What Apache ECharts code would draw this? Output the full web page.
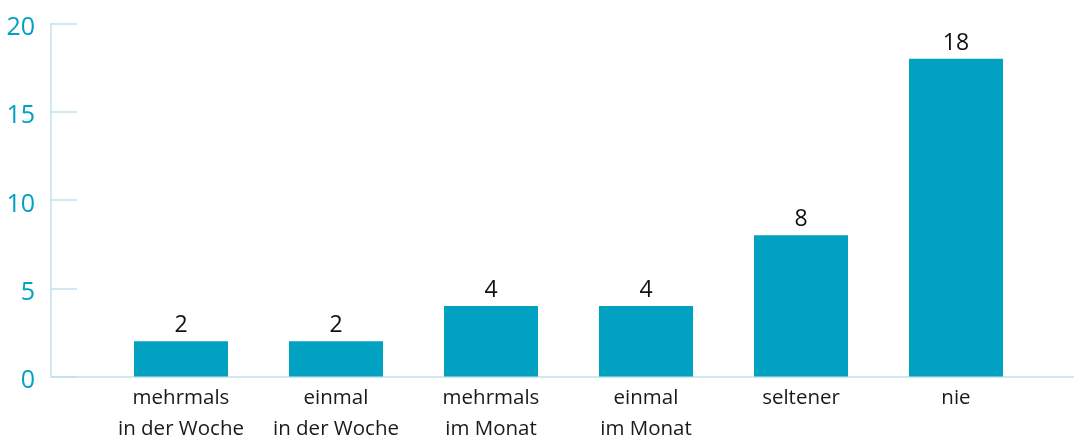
<!DOCTYPE html>
<html><head><meta charset="utf-8">
<script src="https://cdn.jsdelivr.net/npm/echarts@6/dist/echarts.min.js"></script>
<style>html,body{margin:0;padding:0;background:#fff}#c{width:1074px;height:437px}</style>
</head><body><div id="c"></div>
<script>
const categories = ['mehrmals\nin der Woche', 'einmal\nin der Woche', 'mehrmals\nim Monat', 'einmal\nim Monat', 'seltener', 'nie'];
const values = [2, 2, 4, 4, 8, 18];
const yTicks = [0, 5, 10, 15, 20];

const teal = '#00a1c1';
const axisCol = '#bfe4ec';
const font = '"Open Sans", "Noto Sans", sans-serif';

const chart = echarts.init(document.getElementById('c'));
chart.setOption({
  animation: false,
  grid: [
    {left: 51, right: 0, top: 23.5, bottom: 60.5, containLabel: false, outerBoundsMode: 'none'},
    {left: 103.5, right: 40.5, top: 23.5, bottom: 60.5, containLabel: false, outerBoundsMode: 'none'}
  ],
  xAxis: [
    {gridIndex: 0, type: 'value', min: 0, max: 1, show: true,
     axisLine: {show: true, lineStyle: {color: axisCol, width: 1.5}},
     axisTick: {show: false}, axisLabel: {show: false}, splitLine: {show: false}},
    {gridIndex: 1, type: 'category', data: categories,
     axisLine: {show: false}, axisTick: {show: false},
     axisLabel: {color: '#1a1a1a', fontFamily: font, fontSize: 20.5, lineHeight: 31, margin: 6, interval: 0}}
  ],
  yAxis: [
    {gridIndex: 0, type: 'value', min: yTicks[0], max: yTicks[yTicks.length - 1], interval: 5,
     axisLine: {show: true, lineStyle: {color: axisCol, width: 1.5}},
     axisTick: {show: true, inside: true, length: 26, lineStyle: {color: axisCol, width: 1.5}},
     axisLabel: {margin: 16, formatter: '{v|{value}}',
       rich: {v: {color: teal, fontFamily: font, fontSize: 25, padding: [9, 0, 0, 0]}}},
     splitLine: {show: false}},
    {gridIndex: 1, type: 'value', min: 0, max: 20, show: false}
  ],
  series: [{
    type: 'bar', xAxisIndex: 1, yAxisIndex: 1, data: values, barWidth: 94,
    itemStyle: {color: teal},
    label: {show: true, position: 'top', distance: 4, color: '#111', fontFamily: font, fontSize: 23}
  }]
});
</script></body></html>
